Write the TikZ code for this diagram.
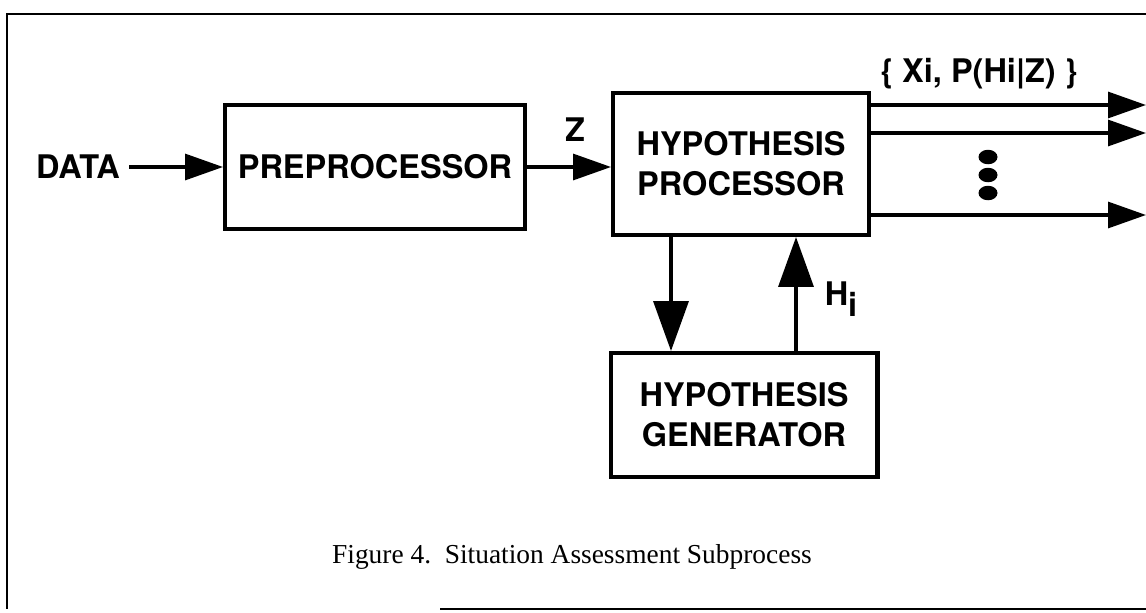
\documentclass[tikz,border=0pt]{standalone}
\usepackage{fontspec}
\setmainfont{Liberation Serif}
\newfontfamily\helv{TeX Gyre Heros}
\usetikzlibrary{arrows.meta}

\begin{document}
\begin{tikzpicture}[x=0.02cm, y=-0.02cm,
  lbl/.style={font=\helv\bfseries\fontsize{18.5}{22.7}\selectfont, align=center},
  blk/.style={lbl, draw, line width=2.3pt, inner sep=0pt},
  flow/.style={line width=1.8pt, -{Triangle[length=0.76cm, width=0.52cm]}},
  bigflow/.style={line width=2pt, -{Triangle[length=1cm, width=0.7cm]}}]

  \useasboundingbox (0,0) rectangle (1146,612);
  \draw [line width=1pt] (1146,14) -- (7,14) -- (7,609);
  \draw [line width=1pt] (440,609) -- (1146,609);

  \node[lbl, inner sep=5pt] (d) at (78,167) {DATA};
  \node[blk, minimum width=6cm, minimum height=2.48cm] (a) at (375,167) {PREPROCESSOR};
  \node[blk, minimum width=5.12cm, minimum height=2.84cm] (p) at (741,164) {HYPOTHESIS\\PROCESSOR};
  \node[blk, minimum width=5.34cm, minimum height=2.48cm] (g) at (744,415) {HYPOTHESIS\\GENERATOR};
  \node[lbl] (z) at (575,130) {Z};
  \node[lbl] (x) at (979,74) {\{ Xi, P(Hi|Z) \}};
  \node[lbl] (h) at (841,299) {H\raisebox{-0.6ex}{i}};

  \coordinate (o1) at (1146,105);
  \coordinate (o2) at (1146,133);
  \coordinate (o3) at (1146,215);
  \coordinate (dn) at (671,300);
  \coordinate (up) at (796,300);

  \draw [flow] (d) to (a);
  \draw [flow] (a.east) to (a.east -| p.west);
  \draw [flow] (o1 -| p.east) to (o1);
  \draw [flow] (o2 -| p.east) to (o2);
  \draw [flow] (o3 -| p.east) to (o3);
  \draw [bigflow] (dn |- p.south) to (dn |- g.north);
  \draw [bigflow] (up |- g.north) to (up |- p.south);

  \foreach \y in {157,175,193}
    \fill (988,\y) ellipse [x radius=0.19cm, y radius=0.145cm];

  \node[font=\fontsize{15.6}{18}\selectfont] (c) at (572,557) {Figure 4.\ \ Situation Assessment Subprocess};

\end{tikzpicture}
\end{document}
